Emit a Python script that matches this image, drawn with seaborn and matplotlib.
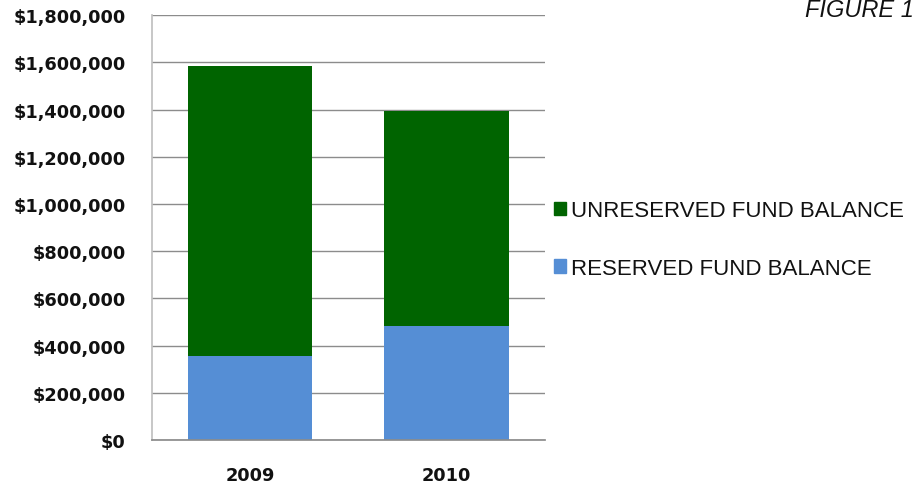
import matplotlib
matplotlib.use('Agg')
import matplotlib.pyplot as plt
import matplotlib.ticker as mticker
from matplotlib.patches import Patch
import numpy as np
import pandas as pd
import seaborn as sns

# data
years = ['2009', '2010']
reserved = [355000, 483000]
unreserved = [1230000, 909000]

GREEN = '#006400'
BLUE = '#558ED5'

sns.set_theme(style='white')
plt.rcParams['font.family'] = ['Liberation Sans', 'DejaVu Sans']

df = pd.DataFrame({'year': years, 'reserved': reserved, 'unreserved': unreserved})
df['total'] = df['reserved'] + df['unreserved']

fig = plt.figure(figsize=(9.2, 4.89), dpi=100)
ax = fig.add_axes([0.165, 0.098, 0.427, 0.869])

# stacked bars: total first, reserved on top of it
sns.barplot(data=df, x='year', y='total', color=GREEN, width=0.635, saturation=1,
            linewidth=0, ax=ax)
sns.barplot(data=df, x='year', y='reserved', color=BLUE, width=0.635, saturation=1,
            linewidth=0, ax=ax)

ax.set_ylim(0, 1800000)
ax.set_xlim(-0.5, 1.5)
ax.yaxis.set_major_locator(mticker.MultipleLocator(200000))
ax.yaxis.set_major_formatter(mticker.FuncFormatter(lambda v, p: '${:,.0f}'.format(v)))
ax.set_xlabel('')
ax.set_ylabel('')
ax.set_axisbelow(True)
ax.grid(axis='y', color='#8c8c8c', linewidth=1)

for s in ['top', 'right']:
    ax.spines[s].set_visible(False)
ax.spines['left'].set_color('#c0c0c0')
ax.spines['bottom'].set_color('#8c8c8c')

ax.tick_params(axis='y', length=9, color='#8c8c8c', width=1, pad=10)
ax.tick_params(axis='x', length=0, pad=19)
for lab in ax.get_yticklabels() + ax.get_xticklabels():
    lab.set_fontweight('bold')
    lab.set_family('DejaVu Sans')
    lab.set_fontsize(12.8)
    lab.set_color('#111111')

# small category boundary ticks below the axis
ax.set_xticks([-0.5, 0.5, 1.5], minor=True)
ax.tick_params(axis='x', which='minor', length=7, color='#c0c0c0', direction='out')

handles = [Patch(color=GREEN, label='UNRESERVED FUND BALANCE'),
           Patch(color=BLUE, label='RESERVED FUND BALANCE')]
fig.legend(handles=handles, loc='center left', bbox_to_anchor=(0.58, 0.508),
           frameon=False, fontsize=16, handlelength=0.55, handleheight=0.55,
           handletextpad=0.25, labelspacing=1.65, labelcolor='#111111')

fig.text(0.993, 0.978, 'FIGURE 1', ha='right', va='center', fontsize=17, style='italic',
         color='#111111')

fig.savefig('out.png', dpi=100)
